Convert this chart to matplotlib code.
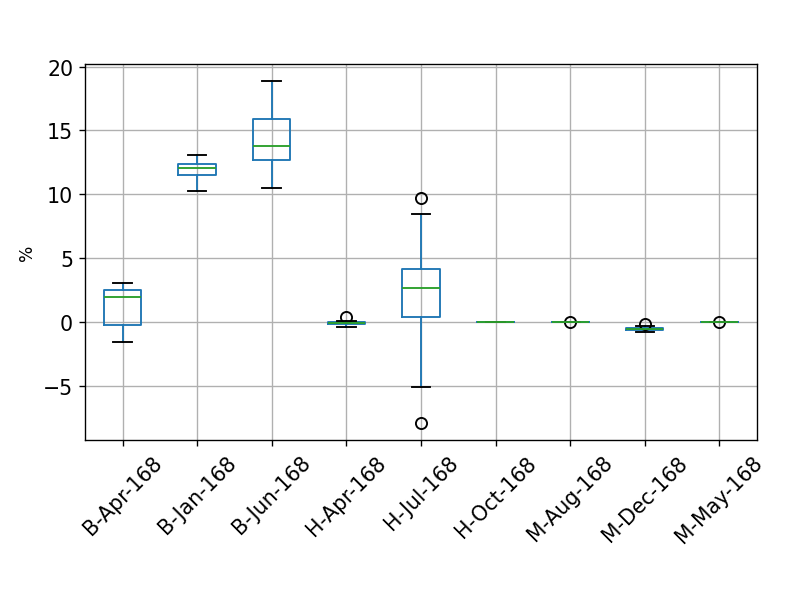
import matplotlib.pyplot as plt

# Box statistics (%)
labels = ["B-Apr-168", "B-Jan-168", "B-Jun-168", "H-Apr-168", "H-Jul-168",
          "H-Oct-168", "M-Aug-168", "M-Dec-168", "M-May-168"]
medians = [1.98, 12.03, 13.78, -0.08, 2.64, 0.0, 0.0, -0.55, 0.0]
q1 = [-0.26, 11.48, 12.70, -0.18, 0.39, 0.0, 0.0, -0.66, 0.0]
q3 = [2.48, 12.37, 15.87, 0.0, 4.13, 0.0, 0.0, -0.44, 0.0]
whislo = [-1.57, 10.22, 10.46, -0.37, -5.10, 0.0, 0.0, -0.76, 0.0]
whishi = [3.06, 13.10, 18.85, 0.06, 8.47, 0.0, 0.0, -0.30, 0.0]
fliers = [[], [], [], [0.37], [9.73, -7.92], [], [0.0], [-0.16], [0.0]]

stats = []
for i in range(len(labels)):
    stats.append({"label": labels[i], "med": medians[i], "q1": q1[i], "q3": q3[i],
                  "whislo": whislo[i], "whishi": whishi[i], "fliers": fliers[i]})

fig = plt.figure(figsize=(6.4, 4.8), dpi=123.3)
ax = fig.add_axes([0.108, 0.255, 0.851, 0.635])

lw = 1.1
ax.bxp(stats,
       boxprops=dict(color="C0", linewidth=lw),
       whiskerprops=dict(color="C0", linewidth=lw),
       medianprops=dict(color="C2", linewidth=lw),
       capprops=dict(color="black", linewidth=lw),
       flierprops=dict(marker="o", markersize=6.5, markerfacecolor="none",
                       markeredgecolor="black", markeredgewidth=lw))

ax.grid(True)
ax.set_axisbelow(True)
ax.set_ylabel("%", fontsize=10)
ax.tick_params(labelsize=12)
plt.setp(ax.get_xticklabels(), rotation=45, ha="center")

fig.savefig("out.png", dpi=123.3)
